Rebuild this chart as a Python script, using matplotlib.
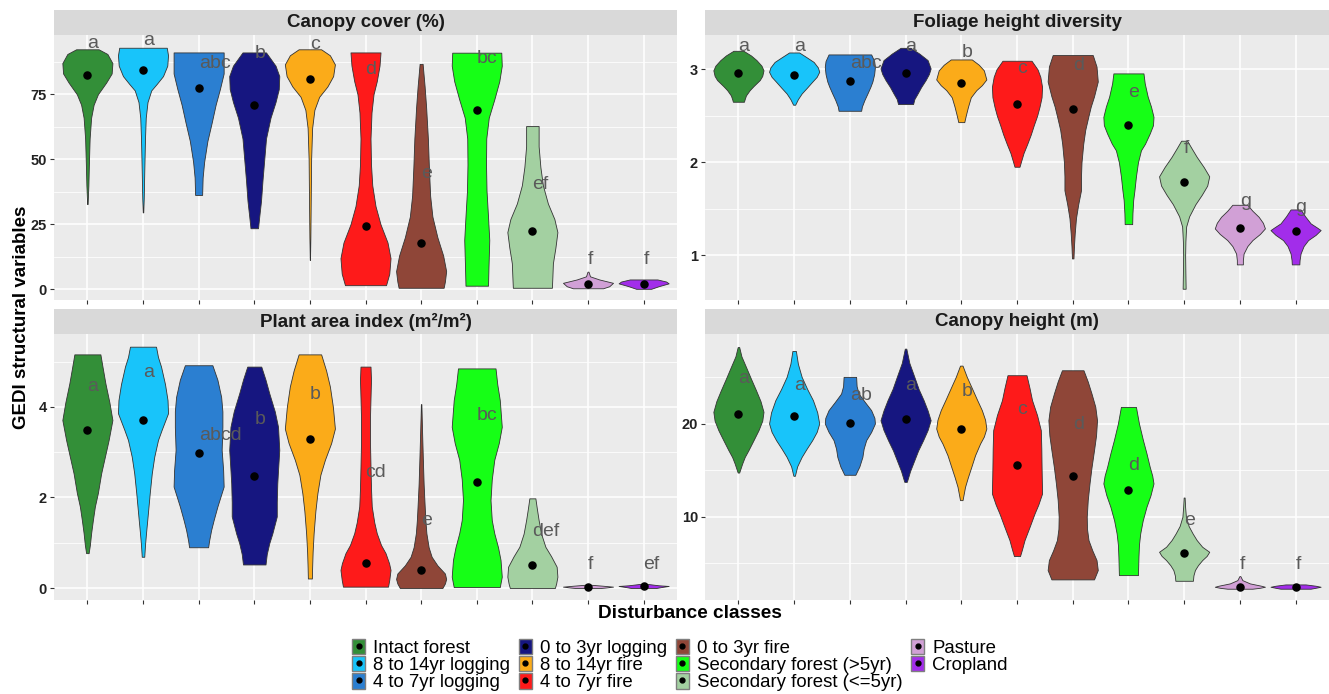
import matplotlib
matplotlib.use("Agg")
import matplotlib.pyplot as plt
from matplotlib.lines import Line2D
from matplotlib.patches import Patch
from matplotlib.legend_handler import HandlerTuple

plt.rcParams["font.family"] = ["Liberation Sans", "DejaVu Sans"]

CLASSES = [
    "Intact forest", "8 to 14yr logging", "4 to 7yr logging", "0 to 3yr logging",
    "8 to 14yr fire", "4 to 7yr fire", "0 to 3yr fire", "Secondary forest (>5yr)",
    "Secondary forest (<=5yr)", "Pasture", "Cropland",
]
CLASS_COLORS = [
    "#338F38", "#18C4FA", "#2B7FD1", "#161680", "#FBAB19", "#FE1A1A",
    "#8F4638", "#16FF16", "#A3D0A1", "#D1A0D6", "#A22DEA",
]

# class means (black dots)
COVER_MEAN = [82.4, 84.3, 77.3, 70.9, 80.9, 24.5, 17.7, 69.1, 22.5, 1.9, 2.2]
FHD_MEAN = [2.957, 2.939, 2.874, 2.957, 2.856, 2.624, 2.573, 2.40, 1.785, 1.297, 1.261]
PAI_MEAN = [3.49, 3.70, 2.99, 2.48, 3.30, 0.56, 0.39, 2.35, 0.51, 0.03, 0.05]
HEIGHT_MEAN = [21.07, 20.78, 20.03, 20.5, 19.36, 15.5, 14.32, 12.85, 6.1, 2.5, 2.5]

# post-hoc group letters and where they sit
COVER_LETTERS = ["a", "a", "abc", "b", "c", "d", "e", "bc", "ef", "f", "f"]
COVER_LETTER_Y = [94.6, 95.6, 86.9, 90.8, 94.2, 84.6, 44.6, 88.8, 40.4, 11.3, 11.3]
FHD_LETTERS = ["a", "a", "abc", "a", "b", "c", "d", "e", "f", "g", "g"]
FHD_LETTER_Y = [3.243, 3.243, 3.065, 3.243, 3.18, 3.01, 3.04, 2.75, 2.15, 1.58, 1.52]
PAI_LETTERS = ["a", "a", "abcd", "b", "b", "cd", "e", "bc", "def", "f", "ef"]
PAI_LETTER_Y = [4.44, 4.75, 3.36, 3.72, 4.28, 2.55, 1.50, 3.82, 1.24, 0.52, 0.52]
HEIGHT_LETTERS = ["a", "a", "ab", "a", "b", "c", "d", "d", "e", "f", "f"]
HEIGHT_LETTER_Y = [24.8, 24.1, 23.0, 24.1, 23.4, 21.5, 19.9, 15.5, 9.6, 4.9, 4.9]

# violin outlines: (value, relative half width), top to bottom
COVER_VIOLIN = [
    [(92.3, 0.45), (90.5, 0.8), (87, 1.0), (83, 0.97), (79.5, 0.75), (75, 0.42), (71, 0.25), (66, 0.15),
     (58, 0.09), (48, 0.06), (40, 0.04), (32.8, 0.01)],
    [(92.9, 0.95), (90, 1.0), (86, 0.97), (82, 0.8), (79, 0.55), (76.5, 0.33), (72, 0.18), (66, 0.11),
     (58, 0.08), (45, 0.05), (35, 0.03), (29.6, 0.01)],
    [(91.1, 1.0), (83, 1.0), (77, 0.85), (71, 0.68), (64, 0.52), (57, 0.35), (49, 0.22), (43, 0.16), (36.3, 0.14)],
    [(91.1, 0.47), (86, 0.85), (82, 1.0), (77, 0.98), (72, 0.85), (66, 0.65), (58, 0.47), (50, 0.4),
     (42, 0.33), (34, 0.27), (28, 0.2), (23.5, 0.15)],
    [(92.3, 0.45), (90, 0.8), (86.5, 1.0), (82, 0.93), (78, 0.7), (74, 0.37), (69, 0.18), (62, 0.09),
     (50, 0.05), (35, 0.035), (20, 0.02), (11.3, 0.005)],
    [(91.1, 0.6), (86, 0.56), (80, 0.45), (75, 0.32), (68, 0.24), (58, 0.2), (48, 0.22), (40, 0.27),
     (32, 0.4), (25, 0.6), (18, 0.88), (12, 1.0), (6, 0.95), (1.6, 0.82)],
    [(86.7, 0.06), (78, 0.14), (70, 0.2), (58, 0.27), (47, 0.31), (36, 0.36), (28, 0.45), (20, 0.65),
     (13, 0.88), (7, 1.0), (3, 0.95), (0.6, 0.9)],
    [(91, 0.98), (86, 1.0), (80, 0.9), (73, 0.7), (66, 0.48), (58, 0.38), (48, 0.37), (38, 0.39),
     (28, 0.45), (19, 0.5), (9, 0.47), (1.4, 0.45)],
    [(62.8, 0.25), (55, 0.25), (47, 0.32), (40, 0.42), (33, 0.62), (27, 0.88), (22, 1.0), (16, 0.92),
     (10, 0.82), (5, 0.8), (0.6, 0.78)],
    [(6.8, 0.02), (5, 0.08), (3.8, 0.45), (2.5, 1.0), (1.2, 0.85), (0.4, 0.6)],
    [(3.8, 0.55), (3, 0.9), (2.3, 1.0), (1.2, 0.6), (0.2, 0.3)],
]
FHD_VIOLIN = [
    [(3.2, 0.2), (3.15, 0.5), (3.1, 0.72), (3.04, 0.92), (2.99, 1.0), (2.93, 0.95), (2.885, 0.85),
     (2.82, 0.6), (2.777, 0.45), (2.72, 0.3), (2.68, 0.25), (2.652, 0.22)],
    [(3.182, 0.2), (3.13, 0.5), (3.08, 0.78), (3.02, 0.95), (2.974, 1.0), (2.92, 0.9), (2.867, 0.72),
     (2.8, 0.5), (2.741, 0.3), (2.68, 0.15), (2.62, 0.04)],
    [(3.161, 0.85), (3.09, 0.97), (3.028, 1.0), (2.95, 0.97), (2.87, 0.9), (2.813, 0.82), (2.74, 0.7),
     (2.67, 0.58), (2.6, 0.48), (2.555, 0.45)],
    [(3.232, 0.2), (3.17, 0.55), (3.1, 0.88), (3.01, 1.0), (2.95, 0.93), (2.885, 0.8), (2.81, 0.62),
     (2.741, 0.48), (2.68, 0.35), (2.627, 0.3)],
    [(3.107, 0.42), (3.05, 0.7), (2.99, 0.9), (2.892, 1.0), (2.83, 0.82), (2.777, 0.6), (2.7, 0.38),
     (2.6, 0.27), (2.526, 0.2), (2.47, 0.15), (2.433, 0.12)],
    [(3.093, 0.58), (3.0, 0.82), (2.92, 0.93), (2.813, 1.0), (2.7, 0.98), (2.6, 0.9), (2.5, 0.8),
     (2.4, 0.67), (2.3, 0.55), (2.2, 0.41), (2.1, 0.26), (2.0, 0.15), (1.953, 0.1)],
    [(3.154, 0.8), (3.03, 0.95), (2.87, 1.0), (2.71, 0.85), (2.6, 0.72), (2.49, 0.62), (2.35, 0.5),
     (2.2, 0.42), (2.0, 0.35), (1.85, 0.33), (1.7, 0.33), (1.55, 0.22), (1.4, 0.13), (1.236, 0.08),
     (1.1, 0.05), (0.967, 0.03)],
    [(2.957, 0.6), (2.85, 0.65), (2.706, 0.77), (2.6, 0.9), (2.49, 1.0), (2.4, 0.98), (2.311, 0.85),
     (2.2, 0.66), (2.13, 0.5), (2.0, 0.38), (1.85, 0.3), (1.7, 0.24), (1.594, 0.19), (1.45, 0.16), (1.336, 0.15)],
    [(2.233, 0.12), (2.15, 0.3), (2.06, 0.5), (1.95, 0.78), (1.85, 1.0), (1.75, 0.92), (1.65, 0.7),
     (1.55, 0.45), (1.42, 0.2), (1.31, 0.08), (1.15, 0.05), (1.0, 0.04), (0.8, 0.05), (0.641, 0.06)],
    [(1.544, 0.3), (1.48, 0.5), (1.415, 0.75), (1.35, 0.92), (1.29, 1.0), (1.23, 0.8), (1.164, 0.5),
     (1.1, 0.3), (1.02, 0.15), (0.95, 0.12), (0.903, 0.12)],
    [(1.494, 0.2), (1.42, 0.38), (1.344, 0.6), (1.3, 0.85), (1.272, 1.0), (1.22, 0.8), (1.164, 0.5),
     (1.1, 0.32), (1.02, 0.2), (0.95, 0.16), (0.903, 0.15)],
]
PAI_VIOLIN = [
    [(5.16, 0.52), (4.9, 0.6), (4.52, 0.72), (4.1, 0.88), (3.71, 1.0), (3.27, 0.85), (2.9, 0.7),
     (2.53, 0.55), (2.1, 0.42), (1.8, 0.3), (1.5, 0.22), (1.21, 0.15), (0.95, 0.1), (0.77, 0.05)],
    [(5.33, 0.52), (5.1, 0.6), (4.89, 0.72), (4.5, 0.88), (4.15, 0.98), (3.86, 1.0), (3.5, 0.75),
     (3.27, 0.6), (2.9, 0.45), (2.53, 0.35), (2.1, 0.27), (1.8, 0.22), (1.5, 0.17), (1.21, 0.12),
     (0.95, 0.08), (0.69, 0.05)],
    [(4.92, 0.55), (4.6, 0.75), (4.22, 0.9), (3.9, 0.95), (3.56, 0.95), (3.05, 0.92), (2.6, 0.98),
     (2.24, 1.0), (1.8, 0.75), (1.5, 0.6), (1.28, 0.5), (1.05, 0.42), (0.9, 0.38)],
    [(4.89, 0.28), (4.6, 0.45), (4.3, 0.6), (3.9, 0.82), (3.56, 0.95), (3.05, 1.0), (2.6, 0.95),
     (2.31, 0.92), (1.9, 0.9), (1.58, 0.9), (1.2, 0.72), (0.99, 0.6), (0.75, 0.5), (0.52, 0.45)],
    [(5.16, 0.45), (4.8, 0.65), (4.45, 0.8), (4.0, 0.92), (3.52, 1.0), (3.2, 0.85), (2.83, 0.6),
     (2.5, 0.42), (2.09, 0.3), (1.7, 0.22), (1.21, 0.15), (0.8, 0.11), (0.45, 0.09), (0.21, 0.08)],
    [(4.89, 0.2), (4.6, 0.22), (4.2, 0.2), (3.78, 0.18), (3.2, 0.18), (2.68, 0.2), (2.2, 0.22),
     (1.8, 0.25), (1.45, 0.35), (1.21, 0.45), (0.95, 0.62), (0.77, 0.8), (0.55, 0.94), (0.4, 1.0),
     (0.18, 0.95), (0.03, 0.9)],
    [(4.06, 0.01), (3.41, 0.04), (2.83, 0.07), (2.3, 0.1), (1.94, 0.13), (1.5, 0.17), (1.21, 0.21),
     (0.9, 0.3), (0.69, 0.42), (0.5, 0.65), (0.32, 0.95), (0.2, 1.0), (0.1, 0.95), (0.0, 0.85)],
    [(4.85, 0.75), (4.5, 0.82), (4.15, 0.92), (3.56, 1.0), (3.2, 0.88), (2.83, 0.7), (2.4, 0.6),
     (1.94, 0.55), (1.5, 0.6), (1.21, 0.7), (0.9, 0.85), (0.62, 0.95), (0.25, 1.0), (0.02, 0.92)],
    [(1.98, 0.12), (1.75, 0.18), (1.5, 0.25), (1.2, 0.35), (0.91, 0.52), (0.7, 0.75), (0.47, 0.97),
     (0.25, 1.0), (0.1, 0.95), (0.0, 0.9)],
    [(0.07, 0.15), (0.05, 0.6), (0.03, 1.0), (0.01, 0.7), (0.0, 0.5)],
    [(0.09, 0.15), (0.06, 0.6), (0.045, 1.0), (0.02, 0.7), (0.0, 0.5)],
]
HEIGHT_VIOLIN = [
    [(28.2, 0.03), (27.2, 0.12), (26.07, 0.3), (24.8, 0.5), (23.57, 0.7), (22.4, 0.88), (21.25, 1.0),
     (20.3, 0.95), (19.28, 0.8), (18.2, 0.6), (17.14, 0.4), (16.4, 0.25), (15.71, 0.15), (14.74, 0.03)],
    [(27.78, 0.07), (26.4, 0.15), (25, 0.3), (23.7, 0.52), (22.5, 0.75), (21.2, 0.92), (20, 1.0),
     (19.1, 0.9), (18.21, 0.72), (17.3, 0.5), (16.42, 0.3), (15.4, 0.12), (14.39, 0.03)],
    [(25, 0.25), (24, 0.27), (23.21, 0.35), (22.3, 0.6), (21.43, 0.85), (20.6, 0.98), (20, 1.0),
     (19.1, 0.85), (18.21, 0.65), (17.3, 0.55), (16.42, 0.5), (15.4, 0.38), (14.5, 0.22)],
    [(28.03, 0.03), (26.5, 0.15), (25, 0.35), (23.7, 0.52), (22.5, 0.72), (21.4, 0.88), (20.35, 1.0),
     (19.3, 0.88), (18.21, 0.7), (17.1, 0.5), (16.07, 0.35), (14.9, 0.18), (13.74, 0.05)],
    [(26.21, 0.05), (25, 0.22), (23.93, 0.4), (22.6, 0.62), (21.43, 0.82), (20.4, 0.95), (19.46, 1.0),
     (18.6, 0.9), (17.85, 0.75), (16.6, 0.55), (15.35, 0.4), (14.2, 0.26), (13.21, 0.15), (11.78, 0.05)],
    [(25.18, 0.38), (23.8, 0.5), (22.5, 0.6), (20.9, 0.8), (19.28, 0.95), (17.3, 0.97), (15.35, 0.98),
     (13.9, 0.99), (12.49, 1.0), (11.3, 0.85), (10.35, 0.7), (8.9, 0.5), (7.49, 0.3), (6.5, 0.2), (5.78, 0.12)],
    [(25.71, 0.43), (24.5, 0.6), (23.21, 0.75), (21.8, 0.9), (20.35, 0.97), (18.7, 0.93), (17.14, 0.85),
     (15.3, 0.75), (13.57, 0.67), (11.8, 0.6), (10, 0.56), (8.7, 0.57), (7.49, 0.63), (6.4, 0.78),
     (5.35, 0.95), (4.28, 1.0), (3.28, 0.85)],
    [(21.78, 0.3), (20, 0.42), (18.21, 0.58), (16.8, 0.72), (15.35, 0.85), (14.4, 0.95), (13.57, 1.0),
     (12.3, 0.88), (11.07, 0.72), (9.6, 0.57), (8.2, 0.47), (7, 0.42), (5.71, 0.4), (3.74, 0.38)],
    [(12.06, 0.02), (11, 0.04), (9.99, 0.07), (9, 0.18), (8.2, 0.34), (7.5, 0.5), (6.78, 0.72),
     (6.24, 1.0), (5.8, 0.9), (5.35, 0.72), (4.8, 0.55), (4.28, 0.43), (3.7, 0.37), (3.13, 0.35)],
    [(3.63, 0.02), (3.2, 0.1), (2.85, 0.4), (2.6, 0.85), (2.49, 1.0), (2.38, 0.8), (2.28, 0.5)],
    [(2.74, 0.4), (2.6, 0.8), (2.49, 1.0), (2.38, 0.8), (2.28, 0.6)],
]

PANELS = [
    ("Canopy cover (%)", COVER_VIOLIN, COVER_MEAN, COVER_LETTERS, COVER_LETTER_Y,
     (-4.1, 97.8), [0, 25, 50, 75], [12.5, 37.5, 62.5, 87.5]),
    ("Foliage height diversity", FHD_VIOLIN, FHD_MEAN, FHD_LETTERS, FHD_LETTER_Y,
     (0.52, 3.37), [1, 2, 3], [1.5, 2.5]),
    ("Plant area index (m\u00b2/m\u00b2)", PAI_VIOLIN, PAI_MEAN, PAI_LETTERS, PAI_LETTER_Y,
     (-0.265, 5.61), [0, 2, 4], [1, 3, 5]),
    ("Canopy height (m)", HEIGHT_VIOLIN, HEIGHT_MEAN, HEIGHT_LETTERS, HEIGHT_LETTER_Y,
     (1.07, 29.6), [10, 20], [5, 15, 25]),
]

W, H = 1329, 694
# panel boxes in pixels: left, top, right, bottom
BOXES = [(54, 35, 677, 300), (705, 35, 1329, 300), (54, 334, 677, 600), (705, 334, 1329, 600)]
STRIP_H = 25


def draw_panel(ax, violins, means, letters, letter_y, ylim, yticks, yminor):
    ax.set_facecolor("#EBEBEB")
    positions = list(range(1, len(CLASSES) + 1))
    for pos, profile, color in zip(positions, violins, CLASS_COLORS):
        vals = [v for v, _ in profile]
        half = [w * 0.45 for _, w in profile]
        ax.fill_betweenx(vals, [pos - h for h in half], [pos + h for h in half],
                         facecolor=color, edgecolor="#333333", linewidth=0.6, zorder=2)
    ax.scatter(positions, means, s=26, color="black", zorder=3)
    for pos, lab, y in zip(positions, letters, letter_y):
        ax.text(pos, y, lab, ha="left", va="center", fontsize=14, color="#5A5A5A", zorder=4)

    ax.set_xlim(0.4, len(CLASSES) + 0.6)
    ax.set_ylim(*ylim)
    ax.set_xticks(positions)
    ax.set_xticklabels([])
    ax.set_yticks(yticks)
    ax.set_yticks(yminor, minor=True)
    ax.set_yticklabels([str(t) for t in yticks], fontweight="bold")
    ax.grid(which="major", color="white", linewidth=1.1)
    ax.grid(which="minor", axis="y", color="white", linewidth=0.55)
    ax.set_axisbelow(True)
    ax.tick_params(which="major", length=3, width=0.8, color="#333333",
                   labelsize=10.5, labelcolor="#222222", pad=2)
    ax.tick_params(which="minor", length=0)
    for s in ax.spines.values():
        s.set_visible(False)


fig = plt.figure(figsize=(W / 100, H / 100), dpi=100)

for (title, *spec), (x0, y0, x1, y1) in zip(PANELS, BOXES):
    ax = fig.add_axes([x0 / W, 1 - y1 / H, (x1 - x0) / W, (y1 - y0) / H])
    draw_panel(ax, *spec)
    strip = fig.add_axes([x0 / W, 1 - y0 / H, (x1 - x0) / W, STRIP_H / H])
    strip.set_facecolor("#D9D9D9")
    strip.set_xticks([])
    strip.set_yticks([])
    for s in strip.spines.values():
        s.set_visible(False)
    strip.text(0.5, 0.5, title, ha="center", va="center", fontsize=13.5,
               fontweight="bold", color="#1A1A1A", transform=strip.transAxes)

fig.text(22 / W, 1 - 317 / H, "GEDI structural variables", rotation=90, ha="center",
         va="center", fontsize=13.5, fontweight="bold")
fig.text(690 / W, 1 - 613 / H, "Disturbance classes", ha="center", va="center",
         fontsize=13.7, fontweight="bold")

handles = [
    (Patch(facecolor=c, edgecolor="#7F7F7F", linewidth=1.0),
     Line2D([], [], marker="o", color="black", linestyle="", markersize=3.5))
    for c in CLASS_COLORS
]
fig.legend(handles, CLASSES, handler_map={tuple: HandlerTuple(ndivide=1)},
           ncol=4, loc="center", bbox_to_anchor=(680 / W, 1 - 665 / H),
           frameon=False, fontsize=13.4, handlelength=0.7, handleheight=0.9,
           handletextpad=0.45, columnspacing=0.45, labelspacing=-0.05, borderpad=0)

fig.savefig("out.png", dpi=100)
